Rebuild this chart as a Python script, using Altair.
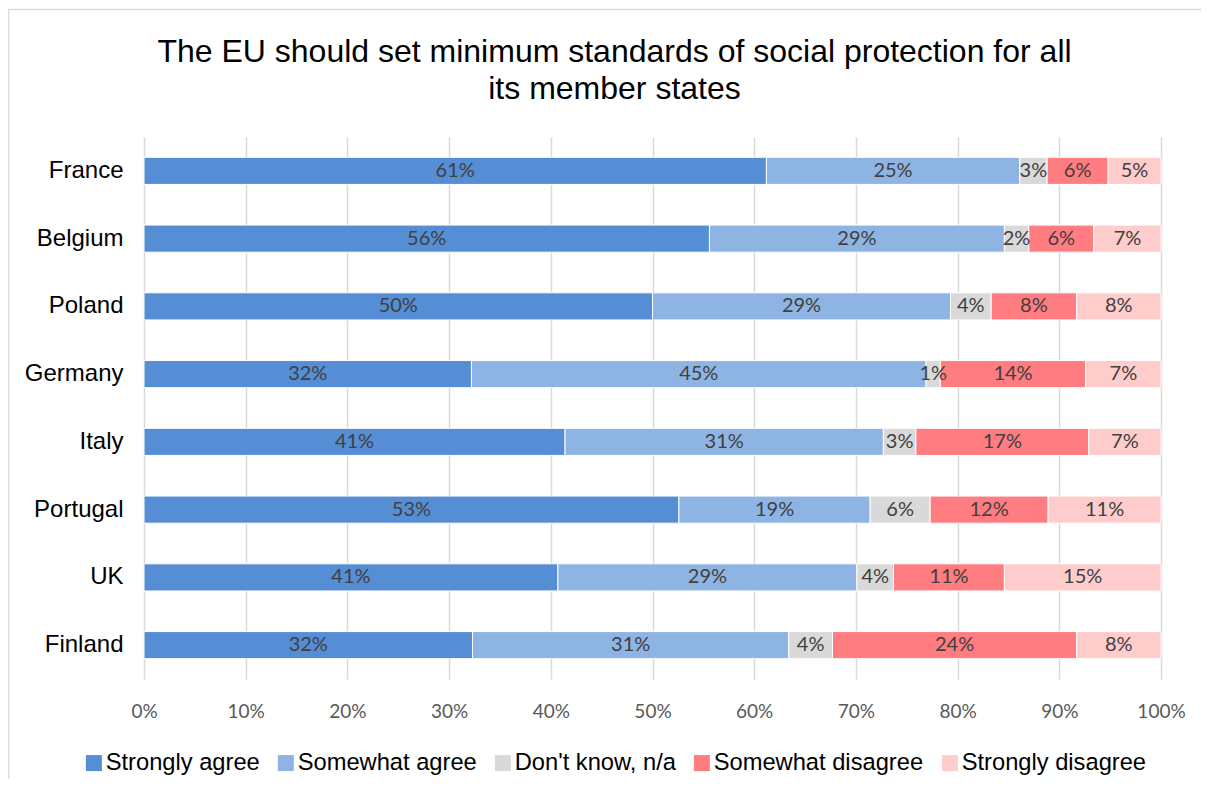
import altair as alt
import pandas as pd

countries = ["France", "Belgium", "Poland", "Germany", "Italy", "Portugal", "UK", "Finland"]
series = ["Strongly agree", "Somewhat agree", "Don't know, n/a", "Somewhat disagree", "Strongly disagree"]
strongly_agree = [61.2, 55.6, 50.0, 32.2, 41.4, 52.6, 40.7, 32.3]
somewhat_agree = [24.9, 29.0, 29.3, 44.7, 31.3, 18.8, 29.4, 31.1]
dont_know = [2.7, 2.4, 4.0, 1.4, 3.2, 5.9, 3.6, 4.3]
somewhat_disagree = [6.0, 6.4, 8.4, 14.3, 17.0, 11.6, 10.9, 24.0]
strongly_disagree = [5.2, 6.6, 8.3, 7.4, 7.1, 11.1, 15.4, 8.3]
colors = ["#558ED5", "#8EB4E3", "#D9D9D9", "#FF7C80", "#FFCCCC"]
tick_values = [0, 10, 20, 30, 40, 50, 60, 70, 80, 90, 100]
title_lines = ["The EU should set minimum standards of social protection for all", "its member states"]

rows = []
for si, (name, vals) in enumerate(zip(series, [strongly_agree, somewhat_agree, dont_know, somewhat_disagree, strongly_disagree])):
    for c, v in zip(countries, vals):
        rows.append({"country": c, "series": name, "order": si, "value": v})
df = pd.DataFrame(rows)

W, H = 1017, 542

base = alt.Chart(df).transform_stack(
    stack="value", groupby=["country"], as_=["x0", "x1"], sort=[alt.SortField("order", order="ascending")]
).transform_calculate(mid="(datum.x0 + datum.x1) / 2")

y_enc = alt.Y("country:N", sort=countries, title=None,
              scale=alt.Scale(paddingInner=0.6, paddingOuter=0.3),
              axis=alt.Axis(labelFont="Liberation Sans", labelFontSize=24, labelColor="#000000",
                            ticks=False, domain=False, labelPadding=21, grid=False))

bars = base.mark_bar(stroke="#FFFFFF", strokeWidth=1).encode(
    x=alt.X("x0:Q", scale=alt.Scale(domain=[0, 100], nice=False), title=None,
            axis=alt.Axis(values=tick_values, labelExpr="datum.value + '%'", grid=True,
                          gridColor="#D9D9D9", gridWidth=1.5, domain=False, ticks=False, labelFlush=False,
                          labelFont="Lato", labelFontSize=19, labelColor="#595959", labelPadding=23)),
    x2="x1:Q",
    y=y_enc,
    color=alt.Color("series:N", sort=series,
                    scale=alt.Scale(domain=series, range=colors),
                    legend=alt.Legend(title=None, orient="none", direction="horizontal",
                                      legendX=-62, legendY=614, symbolType="square", symbolSize=256,
                                      symbolStrokeWidth=0, labelFont="Liberation Sans", labelFontSize=23.7,
                                      labelColor="#000000", labelOffset=0, columnPadding=14,
                                      labelLimit=400)),
    order=alt.Order("order:Q"),
)

labels = base.mark_text(font="Lato", fontSize=20, color="#404040", baseline="middle", align="center").encode(
    x=alt.X("mid:Q"),
    y=alt.Y("country:N", sort=countries),
    text=alt.Text("label:N"),
).transform_calculate(label="format(datum.value, '.0f') + '%'")

frame = alt.Chart(pd.DataFrame({"k": [0]})).mark_rect(fill=None, stroke="#D9D9D9", strokeWidth=1.5).encode(
    x=alt.value(-135.5), x2=alt.value(W + 80), y=alt.value(-127.5), y2=alt.value(H + 120)
)

chart = alt.layer(frame, bars, labels).properties(
    width=W, height=H,
    title=alt.TitleParams(text=title_lines, font="Liberation Sans", fontSize=32, fontWeight="normal",
                          color="#000000", anchor="middle", frame="group", dx=-38, offset=0, dy=122,
                          baseline="alphabetic", lineHeight=37),
    autosize=alt.AutoSizeParams(type="none"),
    padding={"left": 136, "top": 129, "right": 40, "bottom": 100},
).configure_view(stroke=None)

chart.save("out.html", embed_options={"renderer": "svg", "actions": False})
